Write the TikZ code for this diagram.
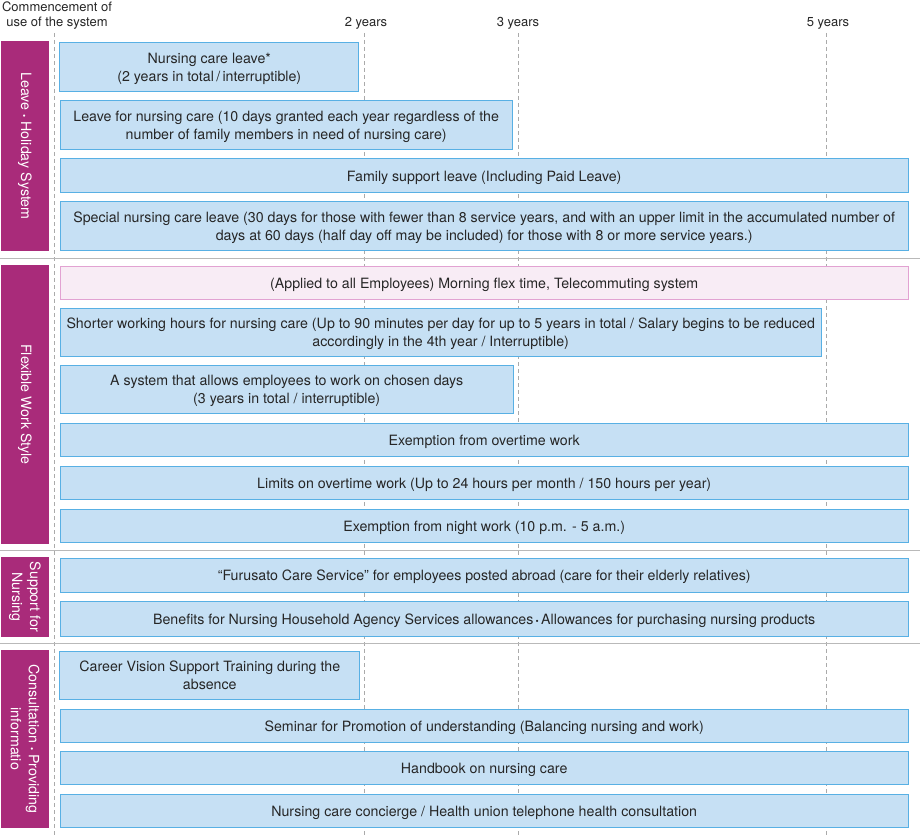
\documentclass[tikz,border=0pt]{standalone}
\usepackage{fontspec}
\setmainfont{TeX Gyre Heros}
\definecolor{barviola}{RGB}{169,43,122}
\definecolor{boxblu}{RGB}{198,224,244}
\definecolor{bordoblu}{RGB}{88,176,228}
\definecolor{boxrosa}{RGB}{248,236,245}
\definecolor{bordorosa}{RGB}{226,162,210}
\definecolor{testo}{RGB}{38,38,38}
\definecolor{guida}{RGB}{170,170,170}
\definecolor{separa}{RGB}{185,185,185}
\newcommand{\puntino}{{\fontsize{9}{9}\selectfont•}}
\tikzset{
    box/.style={draw=bordoblu, fill=boxblu, line width=1pt, inner sep=0pt,
        align=center, text=testo, font={\fontsize{14.2}{18}\selectfont},
        execute at begin node={\rule{0pt}{15pt}}},
    twoline/.style={box, text height=32.5pt, text depth=3.5pt},
    pinkbox/.style={box, draw=bordorosa, fill=boxrosa},
    category/.style={fill=barviola, rotate=-90, inner sep=0pt, align=center,
        text=white, font={\fontsize{14.2}{18}\selectfont}},
    yearlabel/.style={text=testo, align=center, inner sep=0pt,
        font={\fontsize{13}{15}\selectfont}},
    guide/.style={guida, line width=0.8pt, dash pattern=on 4pt off 3pt},
    separator/.style={separa, line width=1.3pt}
}
\begin{document}
\begin{tikzpicture}[x=1pt, y=-1pt]
    \useasboundingbox (0,0) rectangle (920,837);

    % Intestazione
    \node[yearlabel] (start) at (57,16) {Commencement of\\use of the system};
    \node[yearlabel] (twoyears) at (366,23) {2 years};
    \node[yearlabel] (threeyears) at (518,23) {3 years};
    \node[yearlabel] (fiveyears) at (828,23) {5 years};

    % Linee tratteggiate degli anni
    \foreach \x in {54.3,364.3,518.3,826.3}
        \draw[guide] (\x,33) -- (\x,837);

    % Separatori
    \foreach \y in {258.3,550.5,643.3}
        \draw[separator] (0,\y) -- (920,\y);

    % Categorie
    \node[category, minimum width=210, minimum height=48] (leavesys) at (25,146)
        {Leave \puntino{} Holiday System};
    \node[category, minimum width=279, minimum height=48] (flexwork) at (25,404.5)
        {Flexible Work Style};
    \node[category, minimum width=79.4, minimum height=48] (support) at (25,597)
        {Support for\\Nursing};
    \node[category, minimum width=177.7, minimum height=48] (consult) at (25,738.8)
        {Consultation \puntino{} Providing\\informatio};

    % Congedi
    \node[twoline, minimum width=298.7, minimum height=49] (nursingleave) at (209.3,66.8)
        {Nursing care leave*\\(2 years in total\,/\,interruptible)};
    \node[twoline, minimum width=452.3, minimum height=48.7] (leavecare) at (286.2,124.7)
        {Leave for nursing care (10 days granted each year regardless of the\\number of family members in need of nursing care)};
    \node[box, minimum width=848.3, minimum height=33.5] (familyleave) at (484.2,175.3)
        {Family support leave (Including Paid Leave)};
    \node[twoline, minimum width=848.3, minimum height=49] (specialleave) at (484.2,225.5)
        {Special nursing care leave (30 days for those with fewer than 8 service years, and with an upper limit in the accumulated number of\\days at 60 days (half day off may be included) for those with 8 or more service years.)};

    % Lavoro flessibile
    \node[pinkbox, minimum width=848.3, minimum height=33] (flextime) at (484.2,282.5)
        {(Applied to all Employees) Morning flex time, Telecommuting system};
    \node[twoline, minimum width=761.3, minimum height=48] (shorterhours) at (440.7,332)
        {Shorter working hours for nursing care (Up to 90 minutes per day for up to 5 years in total / Salary begins to be reduced\\accordingly in the 4th year / Interruptible)};
    \node[twoline, minimum width=453.3, minimum height=48] (chosendays) at (286.7,389)
        {A system that allows employees to work on chosen days\\(3 years in total / interruptible)};
    \node[box, minimum width=848.3, minimum height=33] (overtimeexempt) at (484.2,439.5)
        {Exemption from overtime work};
    \node[box, minimum width=848.3, minimum height=33] (overtimelimit) at (484.2,482.5)
        {Limits on overtime work (Up to 24 hours per month / 150 hours per year)};
    \node[box, minimum width=848.3, minimum height=33] (nightexempt) at (484.2,525.5)
        {Exemption from night work (10 p.m. - 5 a.m.)};

    % Supporto
    \node[box, minimum width=848.3, minimum height=34] (furusato) at (484.2,575)
        {“Furusato Care Service” for employees posted abroad (care for their elderly relatives)};
    \node[box, minimum width=848.3, minimum height=35] (benefits) at (484.2,618.5)
        {Benefits for Nursing Household Agency Services allowances\,\puntino\,Allowances for purchasing nursing products};

    % Consulenza e informazione
    \node[twoline, minimum width=299.7, minimum height=48] (careervision) at (209.8,675)
        {Career Vision Support Training during the\\absence};
    \node[box, minimum width=848.3, minimum height=33] (seminar) at (484.2,725.5)
        {Seminar for Promotion of understanding (Balancing nursing and work)};
    \node[box, minimum width=848.3, minimum height=33] (handbook) at (484.2,767.5)
        {Handbook on nursing care};
    \node[box, minimum width=848.3, minimum height=33] (concierge) at (484.2,810.5)
        {Nursing care concierge / Health union telephone health consultation};

\end{tikzpicture}
\end{document}
